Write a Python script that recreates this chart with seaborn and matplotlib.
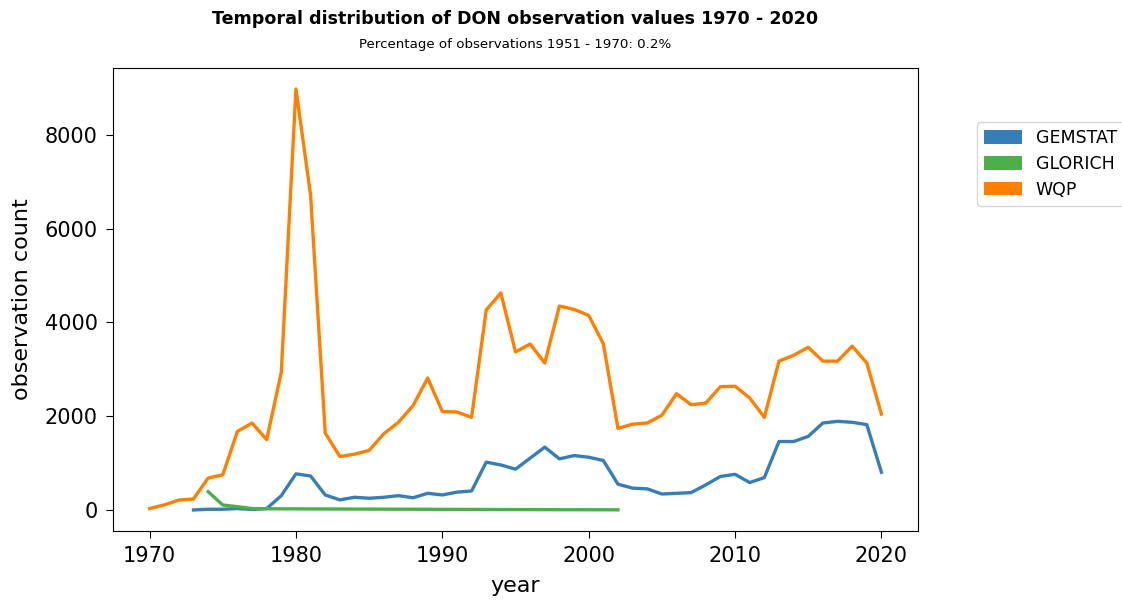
"""
DON 观测值的时间分布 (1970 - 2020)
"""

import pandas as pd
import numpy as np
import matplotlib
matplotlib.use('Agg')
import matplotlib.pyplot as plt
from matplotlib.patches import Patch
import seaborn as sns

# 各数据源每年的观测数量
years_wqp = list(range(1970, 2021))
wqp_counts = [30, 107, 210, 235, 680, 750, 1675, 1855, 1500, 2940,
              8980, 6716, 1640, 1140, 1190, 1270, 1625, 1870, 2225, 2815,
              2100, 2090, 1975, 4265, 4630, 3370, 3540, 3135, 4350, 4280,
              4150, 3545, 1740, 1830, 1855, 2020, 2480, 2245, 2280, 2630,
              2640, 2390, 1975, 3175, 3300, 3470, 3175, 3175, 3495, 3135,
              2045]

years_gemstat = list(range(1973, 2021))
gemstat_counts = [0, 15, 15, 30, 10, 30, 305, 770, 725, 320,
                  215, 270, 250, 270, 305, 260, 355, 320, 380, 405,
                  1020, 960, 870, 1105, 1340, 1090, 1160, 1125, 1055, 550,
                  465, 450, 340, 355, 370, 535, 715, 760, 585, 690,
                  1460, 1460, 1570, 1855, 1890, 1870, 1820, 805]

years_glorich = list(range(1974, 2003))
glorich_counts = [390, 105, 70, 30, 25, 24, 23, 22, 21, 20,
                  19, 18, 17, 16, 15, 14, 13, 12, 11, 10,
                  9, 8, 7, 6, 5, 5, 4, 4, 3]

sources = ['GEMSTAT', 'GLORICH', 'WQP']
colors = {'GEMSTAT': '#377eb8', 'GLORICH': '#4daf4a', 'WQP': '#ff7f00'}

title = 'Temporal distribution of DON observation values 1970 - 2020'
subtitle = 'Percentage of observations 1951 - 1970: 0.2%'

# 构建长表
df = pd.concat([
    pd.DataFrame({'year': years_gemstat, 'count': gemstat_counts, 'source': 'GEMSTAT'}),
    pd.DataFrame({'year': years_glorich, 'count': glorich_counts, 'source': 'GLORICH'}),
    pd.DataFrame({'year': years_wqp, 'count': wqp_counts, 'source': 'WQP'}),
], ignore_index=True)

fig = plt.figure(figsize=(11.22, 6.0), dpi=100)
ax = fig.add_axes([0.1007, 0.115, 0.7175, 0.7717])

sns.lineplot(data=df, x='year', y='count', hue='source', hue_order=sources,
             palette=colors, linewidth=2.4, ax=ax, legend=False)

ax.set_xticks([1970, 1980, 1990, 2000, 2010, 2020])
ax.set_yticks([0, 2000, 4000, 6000, 8000])
ax.tick_params(labelsize=15, length=5, pad=6)
ax.set_xlabel('year', fontsize=16, labelpad=7)
ax.set_ylabel('observation count', fontsize=16, labelpad=9)

fig.text(0.4594, 0.968, title, ha='center', va='center',
         fontsize=12.6, fontweight='bold')
fig.text(0.4594, 0.926, subtitle, ha='center', va='center', fontsize=9.6)

# 图例 (色块)
handles = [Patch(facecolor=colors[s], label=s) for s in sources]
ax.legend(handles=handles, loc='upper left', bbox_to_anchor=(1.073, 0.883),
          borderaxespad=0, fontsize=12.5, frameon=True, handlelength=2.2,
          handleheight=0.82, labelspacing=0.45, handletextpad=0.8,
          borderpad=0.4)

plt.savefig('out.png', dpi=100)
